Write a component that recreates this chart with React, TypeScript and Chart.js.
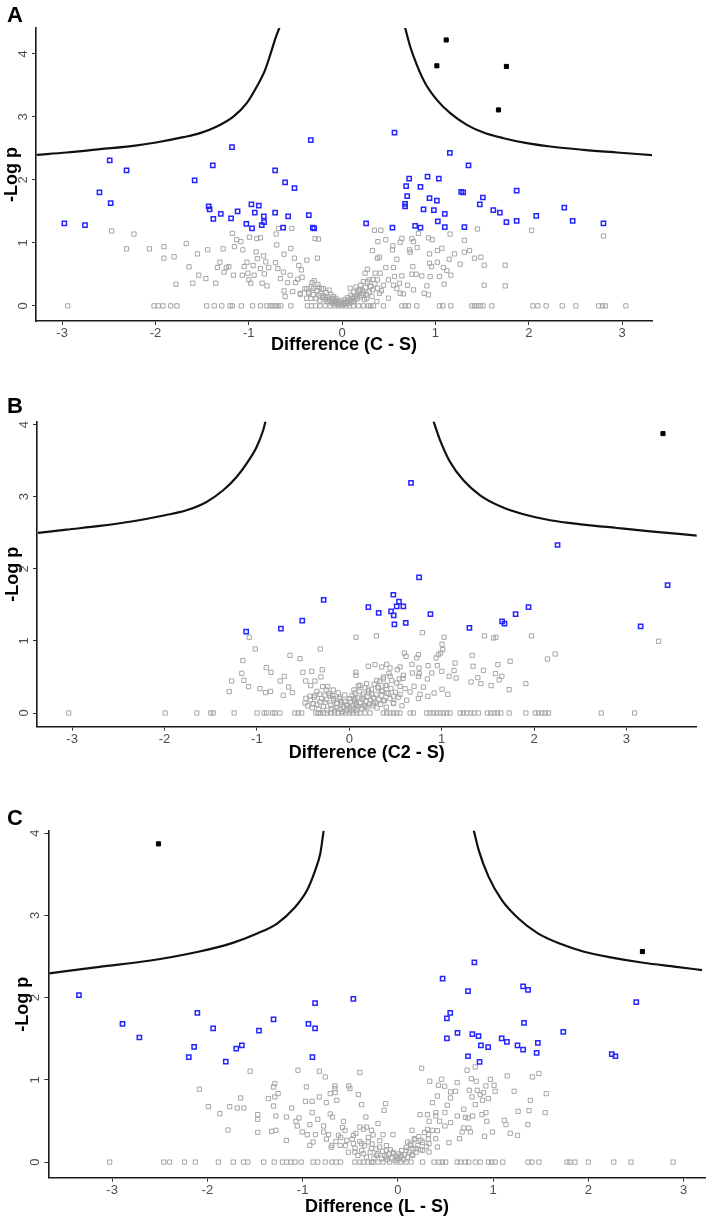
import React, { useEffect, useRef } from 'react';
import { Chart, registerables } from 'chart.js';

Chart.register(...registerables);

type P = [number, number];

const X_TICKS = [-3, -2, -1, 0, 1, 2, 3];
const Y_TICKS = [0, 1, 2, 3, 4];

// ---------- Panel A : Difference (C - S) ----------
const A_BLACK: P[] = [[1.115, 4.22], [1.015, 3.81], [1.76, 3.80], [1.675, 3.11]];
const A_BLUE: P[] = [
  [-2.976, 1.31], [-2.755, 1.28], [-2.60, 1.80], [-2.49, 2.31], [-2.48, 1.63], [-2.31, 2.15], [-1.58, 1.99], [-1.43, 1.58],
  [-1.42, 1.53], [-1.386, 2.23], [-1.38, 1.38], [-1.30, 1.46], [-1.19, 1.39], [-1.18, 2.52], [-1.12, 1.50], [-1.026, 1.30],
  [-0.972, 1.61], [-0.965, 1.23], [-0.936, 1.48], [-0.893, 1.59], [-0.861, 1.28], [-0.839, 1.42], [-0.836, 1.33], [-0.718, 2.15],
  [-0.718, 1.48], [-0.632, 1.24], [-0.611, 1.96], [-0.579, 1.42], [-0.511, 1.87], [-0.357, 1.44], [-0.336, 2.63], [-0.314, 1.24],
  [-0.30, 1.23], [0.257, 1.31], [0.539, 1.24], [0.561, 2.75], [0.675, 1.62], [0.675, 1.58], [0.686, 1.90], [0.697, 1.74],
  [0.718, 2.02], [0.782, 1.27], [0.839, 1.89], [0.839, 1.24], [0.872, 1.53], [0.915, 2.05], [0.936, 1.71], [0.983, 1.52],
  [1.015, 1.67], [1.025, 1.34], [1.036, 2.02], [1.10, 1.46], [1.10, 1.25], [1.154, 2.43], [1.276, 1.81], [1.297, 1.80],
  [1.31, 1.25], [1.354, 2.23], [1.475, 1.61], [1.508, 1.72], [1.62, 1.52], [1.69, 1.48], [1.76, 1.33], [1.87, 1.83],
  [1.87, 1.35], [2.08, 1.43], [2.38, 1.56], [2.47, 1.35], [2.80, 1.31],
];
const A_GRAY: P[] = [
  [-2.47, 1.19], [-2.23, 1.14], [-2.31, 0.905], [-2.065, 0.905], [-1.91, 0.94], [-1.91, 0.757], [-1.80, 0.78], [-1.78, 0.344],
  [-1.67, 0.99], [-1.64, 0.62], [-1.60, 0.36], [-1.55, 0.825], [-1.536, 0.487], [-1.46, 0.433], [-1.44, 0.89], [-1.354, 0.36],
  [-1.336, 0.608], [-1.31, 0.693], [-1.275, 0.905], [-1.265, 0.535], [-1.24, 0.608], [-1.214, 0.624], [-1.176, 1.15], [-1.165, 0.487],
  [-1.154, 0.94], [-1.13, 1.05], [-1.086, 1.02], [-1.064, 0.89], [-1.07, 0.487], [-1.05, 0.624], [-1.02, 0.693], [-1.01, 0.519],
  [-0.993, 1.09], [-1.00, 0.413], [-0.979, 0.36], [-0.954, 0.64], [-0.943, 0.487], [-0.922, 0.857], [-0.914, 1.07], [-0.908, 0.75],
  [-0.876, 1.08], [-0.876, 0.592], [-0.857, 0.36], [-0.843, 0.794], [-0.833, 0.508], [-0.818, 0.698], [-0.804, 0.317], [-0.786, 0.608],
  [-0.714, 0.687], [-0.707, 1.14], [-0.70, 0.968], [-0.682, 1.23], [-0.689, 0.592], [-0.661, 0.433], [-0.629, 0.535], [-0.622, 0.82],
  [-0.622, 0.238], [-0.611, 0.148], [-0.586, 0.37], [-0.557, 0.487], [-0.55, 0.91], [-0.539, 1.23], [-0.529, 0.227], [-0.511, 0.757],
  [-0.50, 0.37], [-0.475, 0.424], [-0.464, 0.64], [-0.447, 0.18], [-0.436, 0.571], [-0.429, 0.455], [-0.378, 0.725], [-0.378, 0.275],
  [-0.357, 0.20], [-0.336, 0.116], [-0.322, 0.37], [-0.307, 0.275], [-0.29, 1.07], [-0.265, 0.757], [-0.254, 1.06], [-0.247, 0.297],
  [-0.228, 0.20], [-0.20, 0.275], [-0.182, 0.138], [-0.147, 0.095], [-0.11, 0.068], [-0.057, 0.068], [-0.02, 0.03], [-0.093, 0.148],
  [0.05, 0.04], [0.086, 0.28], [0.12, 0.12], [0.175, 0.23],
  [0.346, 1.20], [0.415, 1.20], [0.468, 1.05], [0.383, 1.02], [0.325, 0.878], [0.543, 0.952], [0.64, 1.07], [0.622, 1.01],
  [0.747, 1.07], [0.764, 1.02], [0.818, 1.15], [0.925, 1.08], [0.965, 1.05], [1.157, 1.14], [1.31, 1.04], [1.45, 1.22],
  [2.03, 1.20], [2.80, 1.11], [0.539, 0.889], [0.722, 0.889], [0.804, 0.925], [0.936, 0.825], [1.021, 0.878], [1.068, 0.915],
  [1.204, 0.825], [1.31, 0.852], [1.365, 0.878], [0.379, 0.757], [0.40, 0.773], [0.586, 0.74], [0.729, 0.852], [0.936, 0.678],
  [1.02, 0.693], [1.147, 0.74], [1.265, 0.662], [1.418, 0.757], [1.486, 0.773], [1.522, 0.646], [1.747, 0.646], [0.271, 0.582],
  [0.468, 0.608], [0.55, 0.608], [0.757, 0.624], [0.957, 0.624], [1.086, 0.608], [1.122, 0.561], [0.246, 0.519], [0.354, 0.519],
  [0.407, 0.519], [0.747, 0.503], [0.793, 0.503], [0.854, 0.476], [0.943, 0.466], [1.043, 0.466], [1.165, 0.487], [0.496, 0.413],
  [0.561, 0.466], [0.64, 0.476], [0.379, 0.413], [0.289, 0.413], [0.228, 0.386], [0.443, 0.328], [0.55, 0.328], [0.614, 0.36],
  [0.70, 0.328], [0.908, 0.317], [1.093, 0.344], [1.522, 0.328], [1.747, 0.317], [0.307, 0.307], [0.329, 0.254], [0.40, 0.20],
  [0.496, 0.122], [0.586, 0.275], [0.622, 0.20], [0.657, 0.19], [0.764, 0.254], [0.879, 0.20], [0.925, 0.175], [0.193, 0.254],
  [0.228, 0.20], [0.157, 0.148], [0.264, 0.122], [0.372, 0.068], [0.12, 0.068],
  [-0.40, 0.27], [-0.36, 0.22], [-0.33, 0.30], [-0.31, 0.18], [-0.28, 0.12], [-0.27, 0.24], [-0.25, 0.17], [-0.24, 0.08],
  [-0.22, 0.27], [-0.21, 0.13], [-0.20, 0.16], [-0.18, 0.10], [-0.17, 0.21], [-0.16, 0.07], [-0.15, 0.14], [-0.13, 0.09],
  [-0.12, 0.18], [-0.11, 0.05], [-0.10, 0.11], [-0.09, 0.03], [-0.08, 0.07], [-0.07, 0.12], [-0.06, 0.04], [-0.05, 0.09],
  [-0.04, 0.02], [-0.03, 0.06], [-0.02, 0.03], [-0.01, 0.08], [0.01, 0.02], [0.02, 0.05], [0.03, 0.10], [0.04, 0.03],
  [0.05, 0.07], [0.06, 0.13], [0.07, 0.04], [0.08, 0.09], [0.09, 0.17], [0.10, 0.06], [0.11, 0.12], [0.12, 0.22],
  [0.13, 0.08], [0.14, 0.15], [0.15, 0.30], [0.16, 0.11], [0.17, 0.19], [0.18, 0.26], [0.19, 0.14], [0.20, 0.33],
  [0.21, 0.17], [0.22, 0.24], [0.24, 0.10], [0.25, 0.29], [0.26, 0.18], [0.27, 0.38], [0.29, 0.22], [0.30, 0.31],
  [0.32, 0.15], [0.33, 0.42], [-0.14, 0.25], [-0.26, 0.34], [-0.30, 0.40], [0.35, 0.35], [0.38, 0.28], [0.42, 0.24],
  [-0.45, 0.20], [-0.38, 0.12],
];
const A_GRAY_ZERO: number[] = [
  -2.94, -2.015, -1.97, -1.92, -1.836, -1.77, -1.45, -1.37, -1.29, -1.20, -1.176, -1.08, -0.96, -0.875, -0.807, -0.772,
  -0.743, -0.715, -0.686, -0.657, -0.55, -0.372, -0.329, -0.286, -0.236, -0.182, -0.129, -0.08, -0.04, 0.0, 0.04, 0.08,
  0.12, 0.175, 0.228, 0.282, 0.307, 0.336, 0.443, 0.64, 0.675, 0.711, 0.80, 1.043, 1.079, 1.165, 1.39, 1.418, 1.443,
  1.479, 1.508, 1.604, 2.043, 2.097, 2.186, 2.358, 2.504, 2.75, 2.79, 2.82, 3.04,
];
const A_CURVE_L: P[] = [
  [-3.272, 2.397], [-2.951, 2.434], [-2.594, 2.487], [-2.237, 2.54], [-1.994, 2.593], [-1.701, 2.677], [-1.522, 2.741],
  [-1.343, 2.847], [-1.165, 3.005], [-1.022, 3.217], [-0.914, 3.481], [-0.825, 3.746], [-0.765, 4.011], [-0.714, 4.249], [-0.672, 4.413],
];
const A_CURVE_R: P[] = [
  [0.675, 4.413], [0.729, 4.116], [0.80, 3.825], [0.89, 3.534], [1.015, 3.27], [1.158, 3.058], [1.336, 2.873], [1.515, 2.751],
  [1.729, 2.661], [1.979, 2.582], [2.229, 2.529], [2.587, 2.476], [2.944, 2.434], [3.326, 2.392],
];

// ---------- Panel B : Difference (C2 - S) ----------
const B_BLACK: P[] = [[3.395, 3.875]];
const B_BLUE: P[] = [
  [-1.116, 1.13], [-0.74, 1.17], [-0.509, 1.28], [-0.277, 1.57], [0.668, 3.19], [0.206, 1.47], [0.318, 1.39], [0.452, 1.41],
  [0.477, 1.64], [0.481, 1.355], [0.488, 1.23], [0.513, 1.48], [0.538, 1.545], [0.585, 1.48], [0.611, 1.25], [0.755, 1.88],
  [0.878, 1.37], [1.30, 1.18], [1.654, 1.27], [1.68, 1.24], [1.80, 1.37], [1.94, 1.47], [2.254, 2.33], [3.153, 1.20], [3.445, 1.775],
];
const B_GRAY: P[] = [
  [-1.083, 1.05], [-1.018, 0.888], [-1.152, 0.727], [-1.163, 0.55], [-1.14, 0.453], [-1.274, 0.444], [-1.09, 0.366], [-1.30, 0.297],
  [-0.967, 0.338], [-0.906, 0.283], [-0.852, 0.30], [-0.899, 0.63], [-0.848, 0.564], [-0.748, 0.444], [-0.704, 0.509], [-0.715, 0.245],
  [-0.657, 0.36], [-0.617, 0.283], [-0.642, 0.80], [-0.534, 0.754], [-0.502, 0.564], [-0.472, 0.444], [-0.418, 0.38], [-0.372, 0.444],
  [-0.407, 0.578], [-0.314, 0.888], [-0.293, 0.60], [-0.307, 0.50], [-0.288, 0.366], [-0.234, 0.366], [-0.173, 0.319], [-0.469, 0.204],
  [-0.426, 0.232], [-0.372, 0.245], [-0.318, 0.26], [-0.264, 0.245], [-0.209, 0.245], [-0.48, 0.139], [-0.39, 0.13], [-0.318, 0.153],
  [-0.245, 0.186], [-0.173, 0.20], [-0.137, 0.13], [-0.082, 0.153], [-0.028, 0.107], [0.08, 0.107], [0.073, 1.05], [0.069, 0.564],
  [0.098, 0.375], [0.062, 0.277], [-0.1, 0.22], [0.008, 0.20],
  [0.293, 1.07], [0.791, 1.115], [1.026, 1.05], [1.463, 1.07], [1.56, 1.04], [1.586, 1.05], [1.972, 1.07], [3.348, 0.995],
  [1.004, 0.953], [1.012, 0.88], [0.99, 0.832], [0.596, 0.832], [0.614, 0.786], [0.748, 0.81], [0.73, 0.763], [0.939, 0.763],
  [0.964, 0.81], [1.33, 0.80], [2.145, 0.749], [2.228, 0.818], [0.206, 0.648], [0.278, 0.671], [0.351, 0.638], [0.405, 0.675],
  [0.441, 0.624], [0.549, 0.638], [0.679, 0.675], [0.755, 0.624], [0.853, 0.657], [0.953, 0.657], [1.145, 0.693], [1.34, 0.648],
  [1.608, 0.671], [1.741, 0.717], [0.073, 0.523], [0.683, 0.555], [0.758, 0.546], [0.893, 0.555], [1.001, 0.578], [1.08, 0.509],
  [1.134, 0.588], [1.156, 0.485], [1.452, 0.592], [1.582, 0.546], [1.651, 0.509], [1.391, 0.49], [1.318, 0.43], [1.424, 0.408],
  [1.535, 0.38], [1.622, 0.458], [1.911, 0.408], [1.73, 0.324], [0.845, 0.472], [0.748, 0.509], [0.542, 0.472], [0.441, 0.509],
  [0.368, 0.472], [0.297, 0.453], [0.188, 0.408], [0.116, 0.384], [0.701, 0.37], [0.802, 0.36], [0.918, 0.277], [1.004, 0.329],
  [1.066, 0.259], [0.849, 0.231], [0.766, 0.259], [0.658, 0.291], [0.603, 0.338], [0.549, 0.259], [0.477, 0.231], [0.405, 0.277],
  [0.351, 0.315], [0.243, 0.259], [0.152, 0.222], [0.062, 0.20], [0.368, 0.176], [0.477, 0.13], [0.26, 0.13], [0.17, 0.093],
  [0.622, 0.176], [0.748, 0.20], [0.405, 0.384], [0.514, 0.416], [0.585, 0.523], [0.314, 0.347], [0.206, 0.315],
  [-0.45, 0.10], [-0.42, 0.18], [-0.40, 0.07], [-0.38, 0.22], [-0.35, 0.12], [-0.33, 0.05], [-0.30, 0.20], [-0.28, 0.09],
  [-0.26, 0.15], [-0.24, 0.04], [-0.22, 0.27], [-0.20, 0.11], [-0.19, 0.06], [-0.17, 0.17], [-0.16, 0.03], [-0.14, 0.13],
  [-0.13, 0.08], [-0.11, 0.20], [-0.10, 0.05], [-0.09, 0.12], [-0.07, 0.02], [-0.06, 0.09], [-0.05, 0.16], [-0.03, 0.04],
  [-0.02, 0.11], [0.00, 0.07], [0.01, 0.15], [0.02, 0.03], [0.03, 0.24], [0.04, 0.10], [0.05, 0.06], [0.06, 0.17],
  [0.07, 0.13], [0.08, 0.04], [0.09, 0.21], [0.10, 0.09], [0.11, 0.30], [0.12, 0.14], [0.13, 0.06], [0.14, 0.19],
  [0.15, 0.26], [0.16, 0.11], [0.17, 0.35], [0.18, 0.16], [0.19, 0.08], [0.20, 0.23], [0.21, 0.28], [0.22, 0.13],
  [0.23, 0.18], [0.24, 0.33], [0.25, 0.10], [0.26, 0.21], [0.27, 0.40], [0.28, 0.15], [0.29, 0.26], [0.30, 0.07],
  [0.31, 0.36], [0.32, 0.19], [0.33, 0.44], [0.34, 0.12], [0.35, 0.24], [0.36, 0.30], [0.37, 0.50], [0.38, 0.17],
  [0.39, 0.38], [0.40, 0.08], [0.42, 0.27], [0.43, 0.55], [0.44, 0.20], [0.45, 0.34], [0.46, 0.45], [0.48, 0.14],
  [0.50, 0.29], [0.52, 0.60], [0.53, 0.22], [0.55, 0.37], [0.57, 0.10], [0.58, 0.48], [-0.12, 0.28], [-0.25, 0.32],
  [-0.05, 0.25], [0.05, 0.32], [-0.35, 0.30], [0.0, 0.20], [-0.18, 0.24],
];
const B_GRAY_ZERO: number[] = [
  -3.037, -1.993, -1.65, -1.50, -1.473, -1.246, -0.997, -0.921, -0.895, -0.83, -0.805, -0.751, -0.588, -0.553, -0.516, -0.361,
  -0.336, -0.31, -0.28, -0.238, -0.2, -0.16, -0.12, -0.08, -0.04, 0.0, 0.04, 0.08, 0.116, 0.17, 0.224, 0.368, 0.405, 0.441,
  0.477, 0.514, 0.549, 0.658, 0.694, 0.839, 0.874, 0.91, 0.946, 0.983, 1.018, 1.055, 1.091, 1.2, 1.235, 1.272, 1.315, 1.351,
  1.398, 1.495, 1.532, 1.568, 1.603, 1.64, 1.73, 1.911, 2.012, 2.048, 2.084, 2.12, 2.156, 2.727, 3.088,
];
const B_CURVE_L: P[] = [
  [-3.37, 2.497], [-3.062, 2.543], [-2.701, 2.594], [-2.34, 2.659], [-1.996, 2.742], [-1.762, 2.811], [-1.545, 2.927],
  [-1.365, 3.089], [-1.22, 3.273], [-1.112, 3.459], [-1.003, 3.689], [-0.932, 3.921], [-0.906, 4.05],
];
const B_CURVE_R: P[] = [
  [0.91, 4.05], [0.983, 3.782], [1.091, 3.481], [1.235, 3.227], [1.416, 3.019], [1.633, 2.867], [1.885, 2.756], [2.174, 2.673],
  [2.535, 2.613], [2.897, 2.566], [3.258, 2.52], [3.764, 2.46],
];

// ---------- Panel C : Difference (L - S) ----------
const C_BLACK: P[] = [[-2.513, 3.87], [2.568, 2.56]];
const C_BLUE: P[] = [
  [-3.348, 2.03], [-2.891, 1.68], [-2.714, 1.515], [-2.195, 1.275], [-2.139, 1.40], [-2.105, 1.815], [-1.939, 1.625], [-1.807, 1.223],
  [-1.697, 1.38], [-1.638, 1.42], [-1.458, 1.60], [-1.305, 1.734], [-0.939, 1.68], [-0.869, 1.933], [-0.869, 1.625], [-0.897, 1.275],
  [-0.467, 1.985], [0.47, 2.23], [0.55, 1.815], [0.515, 1.747], [0.515, 1.503], [0.626, 1.571], [0.737, 2.08], [0.737, 1.287],
  [0.782, 1.555], [0.803, 2.43], [0.847, 1.531], [0.858, 1.218], [0.872, 1.42], [0.948, 1.397], [1.09, 1.503], [1.145, 1.462],
  [1.256, 1.42], [1.315, 2.136], [1.315, 1.369], [1.367, 2.095], [1.325, 1.693], [1.457, 1.328], [1.47, 1.45], [1.737, 1.584],
  [2.246, 1.312], [2.284, 1.287], [2.503, 1.945],
];
const C_GRAY: P[] = [
  [-1.551, 1.105], [-1.049, 1.117], [-0.824, 1.105], [-0.762, 1.036], [-0.399, 1.089], [-2.084, 0.886], [-1.292, 0.955], [-1.305, 0.914],
  [-1.257, 0.833], [-1.36, 0.772], [-1.292, 0.792], [-1.651, 0.78], [-0.96, 0.914], [-0.661, 0.926], [-0.661, 0.894], [-0.516, 0.926],
  [-0.503, 0.894], [-0.71, 0.833], [-0.658, 0.845], [-0.824, 0.792], [-0.415, 0.821], [-0.97, 0.739], [-0.90, 0.739], [-0.752, 0.723],
  [-0.641, 0.751], [-0.381, 0.699], [-0.129, 0.711], [-1.99, 0.674], [-1.765, 0.674], [-1.686, 0.658], [-1.617, 0.658], [-1.305, 0.682],
  [-1.115, 0.658], [-1.869, 0.589], [-1.471, 0.577], [-1.471, 0.52], [-1.281, 0.56], [-1.17, 0.548], [-1.038, 0.536], [-0.90, 0.601],
  [-0.841, 0.52], [-0.71, 0.585], [-0.686, 0.548], [-0.571, 0.496], [-0.336, 0.548], [-0.145, 0.63], [-1.07, 0.496], [-1.056, 0.439],
  [-0.924, 0.455], [-0.779, 0.439], [-1.783, 0.39], [-1.471, 0.362], [-1.326, 0.374], [-1.281, 0.386], [-1.004, 0.366], [-0.952, 0.334],
  [-0.866, 0.334], [-0.779, 0.366], [-0.727, 0.334], [-0.623, 0.325], [-0.555, 0.386], [-0.467, 0.325], [-0.399, 0.426], [-0.329, 0.426],
  [-0.277, 0.386], [-0.208, 0.468], [-0.156, 0.334], [-0.052, 0.334], [-1.17, 0.264], [-0.89, 0.244], [-0.924, 0.203], [-0.693, 0.203],
  [-0.606, 0.203], [-0.537, 0.264], [-0.467, 0.224], [-0.381, 0.224], [-0.312, 0.244], [-0.277, 0.163], [-0.191, 0.183], [-0.121, 0.143],
  [-0.052, 0.102], [-0.451, 0.122], [-0.363, 0.102], [-0.225, 0.082], [-0.121, 0.061], [0.0, 0.041],
  [0.249, 1.141], [0.727, 1.117], [0.813, 1.157], [1.148, 1.048], [1.412, 1.036], [1.481, 1.077], [0.335, 0.983], [0.46, 1.007],
  [0.426, 0.934], [0.491, 0.922], [0.623, 0.967], [0.772, 1.015], [0.823, 0.983], [0.972, 1.007], [1.01, 0.934], [0.924, 0.926],
  [0.553, 0.853], [0.605, 0.861], [0.75, 0.873], [0.834, 0.873], [0.865, 0.821], [0.899, 0.845], [1.021, 0.861], [1.221, 0.861],
  [1.558, 0.833], [0.415, 0.804], [0.363, 0.723], [0.553, 0.78], [0.519, 0.691], [0.779, 0.792], [0.813, 0.699], [0.889, 0.751],
  [0.951, 0.772], [1.391, 0.751], [0.692, 0.642], [0.398, 0.601], [0.494, 0.601], [0.623, 0.56], [0.709, 0.544], [0.785, 0.56],
  [0.883, 0.577], [0.924, 0.601], [1.263, 0.617], [1.377, 0.626], [1.547, 0.601], [0.232, 0.577], [0.311, 0.577], [0.398, 0.56],
  [0.328, 0.496], [0.439, 0.496], [0.494, 0.439], [0.553, 0.48], [0.737, 0.536], [0.934, 0.496], [1.117, 0.508], [1.135, 0.455],
  [1.366, 0.455], [0.692, 0.414], [0.744, 0.414], [0.675, 0.366], [0.761, 0.366], [0.993, 0.366], [1.18, 0.35], [1.256, 0.325],
  [0.91, 0.313], [0.647, 0.285], [0.149, 0.386], [0.311, 0.398], [0.363, 0.386], [0.415, 0.382], [0.322, 0.334], [0.398, 0.285],
  [0.536, 0.236], [0.415, 0.183], [0.328, 0.224], [0.242, 0.264], [0.172, 0.285], [0.104, 0.244], [0.138, 0.203], [0.19, 0.163],
  [0.26, 0.143], [0.086, 0.143], [0.034, 0.082], [0.156, 0.082], [0.328, 0.122],
  [-0.60, 0.30], [-0.55, 0.20], [-0.52, 0.12], [-0.48, 0.28], [-0.45, 0.17], [-0.42, 0.08], [-0.40, 0.25], [-0.38, 0.14],
  [-0.35, 0.20], [-0.33, 0.06], [-0.31, 0.30], [-0.29, 0.12], [-0.27, 0.22], [-0.25, 0.05], [-0.23, 0.16], [-0.21, 0.10],
  [-0.19, 0.26], [-0.17, 0.04], [-0.16, 0.13], [-0.14, 0.08], [-0.12, 0.20], [-0.11, 0.03], [-0.09, 0.10], [-0.08, 0.15],
  [-0.06, 0.05], [-0.05, 0.12], [-0.03, 0.02], [-0.02, 0.07], [0.00, 0.04], [0.01, 0.10], [0.03, 0.06], [0.04, 0.14],
  [0.06, 0.03], [0.07, 0.09], [0.09, 0.18], [0.10, 0.06], [0.12, 0.12], [0.13, 0.22], [0.15, 0.09], [0.16, 0.16],
  [0.18, 0.27], [0.19, 0.12], [0.21, 0.20], [0.22, 0.31], [0.24, 0.15], [0.26, 0.24], [0.28, 0.36], [0.30, 0.19],
  [0.32, 0.28], [-0.44, 0.35], [-0.36, 0.40], [-0.26, 0.33], [-0.58, 0.42], [-0.65, 0.25], [-0.70, 0.18], [-0.75, 0.28],
];
const C_GRAY_ZERO: number[] = [
  -3.026, -2.458, -2.399, -2.24, -2.126, -1.884, -1.728, -1.62, -1.575, -1.409, -1.298, -1.212, -1.167, -1.126, -1.08, -1.015,
  -0.89, -0.841, -0.762, -0.693, -0.648, -0.602, -0.451, -0.399, -0.363, -0.312, -0.277, -0.26, -0.208, -0.156, -0.087, -0.018,
  0.034, 0.086, 0.138, 0.26, 0.38, 0.432, 0.467, 0.502, 0.623, 0.657, 0.709, 0.744, 0.813, 0.865, 0.951, 0.986, 1.021, 1.101,
  1.367, 1.408, 1.481, 1.776, 1.807, 1.859, 2.0, 2.267, 2.447, 2.89,
];
const C_CURVE_L: P[] = [
  [-3.659, 2.295], [-3.133, 2.375], [-2.614, 2.448], [-2.095, 2.558], [-1.749, 2.66], [-1.471, 2.782], [-1.264, 2.904],
  [-1.09, 3.086], [-0.952, 3.309], [-0.866, 3.553], [-0.814, 3.756], [-0.779, 4.032],
];
const C_CURVE_R: P[] = [
  [0.796, 4.04], [0.848, 3.797], [0.952, 3.471], [1.09, 3.188], [1.263, 2.965], [1.47, 2.782], [1.713, 2.652], [1.955, 2.558],
  [2.233, 2.49], [2.578, 2.424], [2.924, 2.375], [3.194, 2.335],
];

const FONT = "'Liberation Sans', Arial, Helvetica, sans-serif";
const GRAY = '#a6a6a6';
const BLUE = '#2626ff';

interface PanelCfg {
  letter: string;
  title: string;
  top: number;
  height: number;
  xMin: number; xMax: number; yMin: number; yMax: number;
  padTop: number; padRight: number;
  yWidth: number; xHeight: number;
  yTitlePad: number; xTitlePad: number;
  black: P[]; blue: P[]; gray: P[]; grayZero: number[]; curveL: P[]; curveR: P[];
}

const PANELS: PanelCfg[] = [
  {
    letter: 'A', title: 'Difference (C - S)', top: 0, height: 360,
    xMin: -3.28, xMax: 3.32, yMin: -0.24, yMax: 4.41,
    padTop: 28, padRight: 59, yWidth: 36, xHeight: 39, yTitlePad: 1.5, xTitlePad: 4,
    black: A_BLACK, blue: A_BLUE, gray: A_GRAY, grayZero: A_GRAY_ZERO, curveL: A_CURVE_L, curveR: A_CURVE_R,
  },
  {
    letter: 'B', title: 'Difference (C2 - S)', top: 380, height: 390,
    xMin: -3.38, xMax: 3.76, yMin: -0.19, yMax: 4.04,
    padTop: 41.7, padRight: 14.3, yWidth: 37, xHeight: 43.3, yTitlePad: 2.5, xTitlePad: 6,
    black: B_BLACK, blue: B_BLUE, gray: B_GRAY, grayZero: B_GRAY_ZERO, curveL: B_CURVE_L, curveR: B_CURVE_R,
  },
  {
    letter: 'C', title: 'Difference (L - S)', top: 790, height: 428,
    xMin: -3.67, xMax: 3.23, yMin: -0.19, yMax: 4.03,
    padTop: 40.7, padRight: 1.7, yWidth: 48.3, xHeight: 40.3, yTitlePad: 12.5, xTitlePad: 0,
    black: C_BLACK, blue: C_BLUE, gray: C_GRAY, grayZero: C_GRAY_ZERO, curveL: C_CURVE_L, curveR: C_CURVE_R,
  },
];

const toXY = (pts: P[]) => pts.map(([x, y]) => ({ x, y }));

function Panel({ cfg }: { cfg: PanelCfg }) {
  const ref = useRef<HTMLCanvasElement | null>(null);
  useEffect(() => {
    if (!ref.current) return;
    const grayAll = [...toXY(cfg.gray), ...cfg.grayZero.map((x) => ({ x, y: 0 }))];
    const lineDs = (pts: P[]) => ({
      data: toXY(pts),
      showLine: true,
      borderColor: '#111111',
      borderWidth: 2.2,
      pointRadius: 0,
      fill: false,
      cubicInterpolationMode: 'monotone' as const,
    });
    const chart = new Chart(ref.current, {
      type: 'scatter',
      data: {
        datasets: [
          { data: toXY(cfg.black), pointStyle: 'rect', pointRadius: 2.9, borderWidth: 1, borderColor: '#000', backgroundColor: '#000' },
          { data: toXY(cfg.blue), pointStyle: 'rect', pointRadius: 3.0, borderWidth: 1.5, borderColor: BLUE, backgroundColor: 'rgba(0,0,0,0)' },
          { data: grayAll, pointStyle: 'rect', pointRadius: 3.0, borderWidth: 1, borderColor: GRAY, backgroundColor: 'rgba(0,0,0,0)' },
          lineDs(cfg.curveL) as any,
          lineDs(cfg.curveR) as any,
        ],
      },
      options: {
        responsive: false,
        animation: false,
        events: [],
        layout: { padding: { left: 0, top: cfg.padTop, right: cfg.padRight, bottom: 0 } },
        plugins: { legend: { display: false }, tooltip: { enabled: false } },
        scales: {
          x: {
            type: 'linear',
            min: cfg.xMin,
            max: cfg.xMax,
            afterBuildTicks: (s: any) => { s.ticks = X_TICKS.map((v) => ({ value: v })); },
            afterFit: (s: any) => { s.height = cfg.xHeight; },
            ticks: { font: { family: FONT, size: 13 }, color: '#4d4d4d', padding: 1, maxRotation: 0, minRotation: 0, autoSkip: false, callback: (v: any) => String(v) },
            grid: { drawOnChartArea: false, drawTicks: true, tickLength: 4, tickWidth: 1, tickColor: '#333', color: '#333' },
            border: { display: true, color: '#1a1a1a', width: 1.6 },
            title: { display: true, text: cfg.title, color: '#000', font: { family: FONT, size: 18, weight: 'bold' }, padding: { top: 0, bottom: cfg.xTitlePad } },
          },
          y: {
            type: 'linear',
            min: cfg.yMin,
            max: cfg.yMax,
            afterBuildTicks: (s: any) => { s.ticks = Y_TICKS.map((v) => ({ value: v })); },
            afterFit: (s: any) => { s.width = cfg.yWidth; },
            ticks: { font: { family: FONT, size: 13 }, color: '#4d4d4d', padding: 5, minRotation: 90, maxRotation: 90, crossAlign: 'center', autoSkip: false, callback: (v: any) => String(v) },
            grid: { drawOnChartArea: false, drawTicks: true, tickLength: 4, tickWidth: 1, tickColor: '#333', color: '#333' },
            border: { display: true, color: '#1a1a1a', width: 1.6 },
            title: { display: true, text: '-Log p', color: '#000', font: { family: FONT, size: 18, weight: 'bold' }, padding: { top: cfg.yTitlePad, bottom: 0 } },
          },
        },
      } as any,
    });
    return () => chart.destroy();
  }, [cfg]);

  return (
    <div style={{ position: 'absolute', left: 0, top: cfg.top, width: 711, height: cfg.height }}>
      <canvas ref={ref} width={711} height={cfg.height} style={{ display: 'block', width: 711, height: cfg.height }} />
    </div>
  );
}

const LETTER_TOPS = [4, 395, 807];

export default function App() {
  return (
    <div style={{ position: 'absolute', left: 0, top: 0, width: 711, height: 1218, background: '#fff', overflow: 'hidden' }}>
      {PANELS.map((p) => (
        <Panel key={p.letter} cfg={p} />
      ))}
      {PANELS.map((p, i) => (
        <div
          key={'l' + p.letter}
          style={{ position: 'absolute', left: 7, top: LETTER_TOPS[i], fontFamily: FONT, fontWeight: 'bold', fontSize: 22, lineHeight: '22px', color: '#000' }}
        >
          {p.letter}
        </div>
      ))}
    </div>
  );
}
